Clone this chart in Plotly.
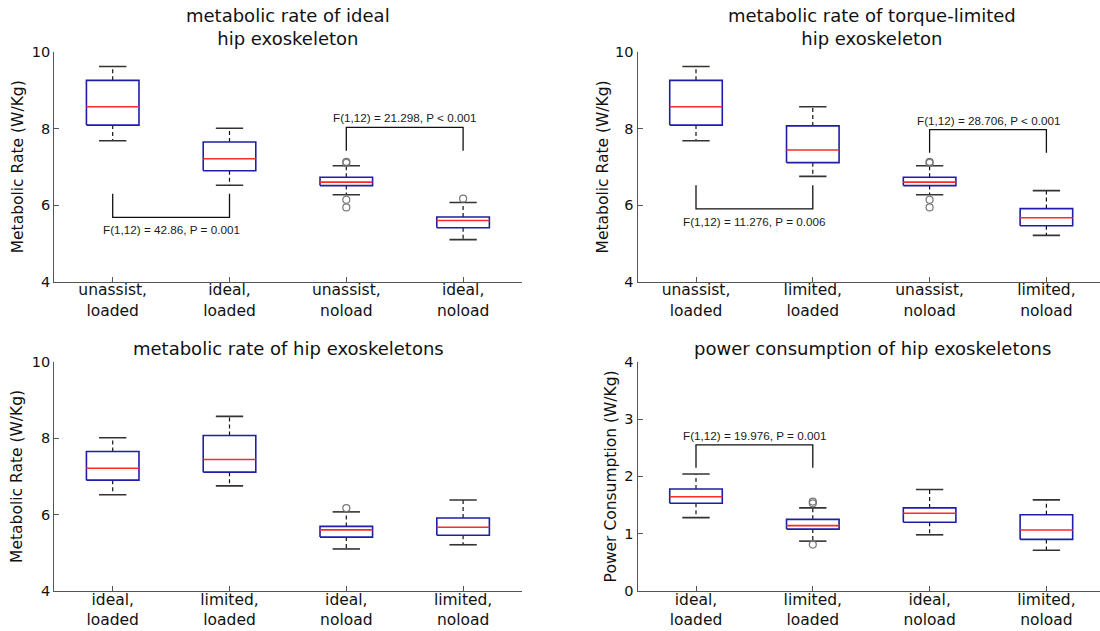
import plotly.graph_objects as go

# ---- categories -------------------------------------------------------------
cats_ideal = ["unassist,<br>loaded", "ideal,<br>loaded", "unassist,<br>noload", "ideal,<br>noload"]
cats_limited = ["unassist,<br>loaded", "limited,<br>loaded", "unassist,<br>noload", "limited,<br>noload"]
cats_both = ["ideal,<br>loaded", "limited,<br>loaded", "ideal,<br>noload", "limited,<br>noload"]

# ---- metabolic rate, ideal exoskeleton (W/Kg) --------------------------------
ideal_lower = [7.68, 6.52, 6.27, 5.10]
ideal_q1 = [8.09, 6.90, 6.51, 5.41]
ideal_med = [8.57, 7.21, 6.60, 5.60]
ideal_q3 = [9.26, 7.65, 6.73, 5.69]
ideal_upper = [9.62, 8.01, 7.03, 6.07]
ideal_out = [[], [], [7.13, 7.10, 6.14, 5.94], [6.17]]

# ---- metabolic rate, torque-limited exoskeleton (W/Kg) -----------------------
lim_lower = [7.68, 6.75, 6.27, 5.21]
lim_q1 = [8.09, 7.11, 6.51, 5.46]
lim_med = [8.57, 7.44, 6.60, 5.67]
lim_q3 = [9.26, 8.07, 6.73, 5.91]
lim_upper = [9.62, 8.57, 7.03, 6.38]
lim_out = [[], [], [7.13, 7.10, 6.14, 5.94], []]

# ---- metabolic rate, both exoskeletons (W/Kg) ---------------------------------
both_lower = [6.52, 6.75, 5.10, 5.21]
both_q1 = [6.90, 7.11, 5.41, 5.46]
both_med = [7.21, 7.44, 5.60, 5.67]
both_q3 = [7.65, 8.07, 5.69, 5.91]
both_upper = [8.01, 8.57, 6.07, 6.38]
both_out = [[], [], [6.17], []]

# ---- power consumption (W/Kg) -------------------------------------------------
pow_lower = [1.28, 0.87, 0.98, 0.71]
pow_q1 = [1.53, 1.08, 1.20, 0.90]
pow_med = [1.645, 1.14, 1.355, 1.065]
pow_q3 = [1.78, 1.25, 1.45, 1.33]
pow_upper = [2.04, 1.45, 1.77, 1.59]
pow_out = [[], [1.56, 1.53, 0.81], [], []]

# ---- significance brackets: (left cat, right cat, leg end, bar level, label) --
brackets_ideal = [
    (1, 2, 6.30, 5.68, "F(1,12) = 42.86, P = 0.001"),
    (3, 4, 7.42, 8.03, "F(1,12) = 21.298, P < 0.001"),
]
brackets_lim = [
    (1, 2, 6.52, 5.90, "F(1,12) = 11.276, P = 0.006"),
    (3, 4, 7.37, 7.97, "F(1,12) = 28.706, P < 0.001"),
]
brackets_pow = [
    (1, 2, 2.15, 2.55, "F(1,12) = 19.976, P = 0.001"),
]

BOX_HW = 0.225
CAP_HW = 0.117
BLUE = "#1e1ea8"
RED = "#ff2a2a"
AXIS = "#555555"
FONT = "DejaVu Sans"

fig = go.Figure()


def add_panel(n, lower, q1, med, q3, upper, outliers, brackets):
    xa = "x" if n == 1 else f"x{n}"
    ya = "y" if n == 1 else f"y{n}"
    pos = list(range(1, len(med) + 1))

    wx, wy, cx, cy, bx, by, mx, my, ox, oy = ([] for _ in range(10))
    for c, lo, a, m, b, up, outs in zip(pos, lower, q1, med, q3, upper, outliers):
        wx += [c, c, None, c, c, None]
        wy += [b, up, None, a, lo, None]
        cx += [c - CAP_HW, c + CAP_HW, None, c - CAP_HW, c + CAP_HW, None]
        cy += [up, up, None, lo, lo, None]
        bx += [c - BOX_HW, c + BOX_HW, c + BOX_HW, c - BOX_HW, c - BOX_HW, None]
        by += [a, a, b, b, a, None]
        mx += [c - BOX_HW, c + BOX_HW, None]
        my += [m, m, None]
        ox += [c] * len(outs)
        oy += list(outs)

    common = dict(xaxis=xa, yaxis=ya, showlegend=False, hoverinfo="skip")
    fig.add_trace(go.Scatter(x=wx, y=wy, mode="lines",
                             line=dict(color="#111111", width=1.2, dash="4px,3px"), **common))
    fig.add_trace(go.Scatter(x=cx, y=cy, mode="lines",
                             line=dict(color="#333333", width=1.6), **common))
    fig.add_trace(go.Scatter(x=bx, y=by, mode="lines",
                             line=dict(color=BLUE, width=1.6), **common))
    fig.add_trace(go.Scatter(x=mx, y=my, mode="lines",
                             line=dict(color=RED, width=1.6), **common))
    if ox:
        fig.add_trace(go.Scatter(x=ox, y=oy, mode="markers",
                                 marker=dict(symbol="circle-open", size=7,
                                             color="#777777", line=dict(width=1.2)),
                                 **common))

    for left, right, leg_end, bar, label in brackets:
        fig.add_trace(go.Scatter(x=[left, left, right, right],
                                 y=[leg_end, bar, bar, leg_end], mode="lines",
                                 line=dict(color="#111111", width=1.3), **common))
        above = bar > leg_end
        fig.add_annotation(x=(left + right) / 2, y=bar, xref=xa, yref=ya,
                           text=label, showarrow=False,
                           yanchor="bottom" if above else "top",
                           yshift=1 if above else -4,
                           font=dict(family="Liberation Sans", size=11.7, color="#1a1a1a"))


add_panel(1, ideal_lower, ideal_q1, ideal_med, ideal_q3, ideal_upper, ideal_out, brackets_ideal)
add_panel(2, lim_lower, lim_q1, lim_med, lim_q3, lim_upper, lim_out, brackets_lim)
add_panel(3, both_lower, both_q1, both_med, both_q3, both_upper, both_out, [])
add_panel(4, pow_lower, pow_q1, pow_med, pow_q3, pow_upper, pow_out, brackets_pow)

W, H = 1100, 631
left_dom = [54.3 / W, 521.5 / W]
right_dom = [637.6 / W, 1.0]
top_dom = [1 - 281.7 / H, 1 - 52 / H]
bot_dom = [1 - 591 / H, 1 - 361.7 / H]
right_xmax = 1 + (W - 696) / 116.8


def xaxis(domain, anchor, ticktext, xmax):
    return dict(domain=domain, anchor=anchor, range=[0.5, xmax],
                tickvals=[1, 2, 3, 4], ticktext=ticktext, automargin=False,
                ticklabelstandoff=-6,
                showline=True, linecolor=AXIS, linewidth=1.3,
                ticks="inside", ticklen=5, tickcolor=AXIS, tickwidth=1,
                showgrid=False, zeroline=False,
                tickfont=dict(family=FONT, size=15.5, color="#111111"))


def yaxis(domain, anchor, rng, dtick):
    return dict(domain=domain, anchor=anchor, range=rng, dtick=dtick,
                automargin=False,
                showline=True, linecolor=AXIS, linewidth=1.3,
                ticks="inside", ticklen=5, tickcolor=AXIS, tickwidth=1,
                showgrid=False, zeroline=False,
                tickfont=dict(family=FONT, size=14.5, color="#111111"))


fig.update_layout(
    template="none",
    width=W, height=H,
    margin=dict(l=0, r=0, t=0, b=0, autoexpand=False),
    paper_bgcolor="white", plot_bgcolor="white",
    xaxis=xaxis(left_dom, "y", cats_ideal, 4.5),
    yaxis=yaxis(top_dom, "x", [4, 10], 2),
    xaxis2=xaxis(right_dom, "y2", cats_limited, right_xmax),
    yaxis2=yaxis(top_dom, "x2", [4, 10], 2),
    xaxis3=xaxis(left_dom, "y3", cats_both, 4.5),
    yaxis3=yaxis(bot_dom, "x3", [4, 10], 2),
    xaxis4=xaxis(right_dom, "y4", cats_both, right_xmax),
    yaxis4=yaxis(bot_dom, "x4", [0, 4], 1),
)

# panel titles
titles = [
    ("metabolic rate of ideal<br>hip exoskeleton", 288, 27.0),
    ("metabolic rate of torque-limited<br>hip exoskeleton", 872, 27.0),
    ("metabolic rate of hip exoskeletons", 288, 348.0),
    ("power consumption of hip exoskeletons", 872, 348.0),
]
for text, px, py in titles:
    fig.add_annotation(x=px / W, y=1 - py / H, xref="paper", yref="paper",
                       text=text, showarrow=False, xanchor="center", yanchor="middle",
                       font=dict(family=FONT, size=18, color="#111111"))

# y-axis titles
ytitles = [
    ("Metabolic Rate (W/Kg)", 17.5, 166.8),
    ("Metabolic Rate (W/Kg)", 602.6, 166.8),
    ("Metabolic Rate (W/Kg)", 17.5, 476.4),
    ("Power Consumption (W/Kg)", 611.0, 476.4),
]
for text, px, py in ytitles:
    fig.add_annotation(x=px / W, y=1 - py / H, xref="paper", yref="paper",
                       text=text, showarrow=False, textangle=-90,
                       xanchor="center", yanchor="middle",
                       font=dict(family=FONT, size=15.5, color="#111111"))

fig.write_html("out.html")
